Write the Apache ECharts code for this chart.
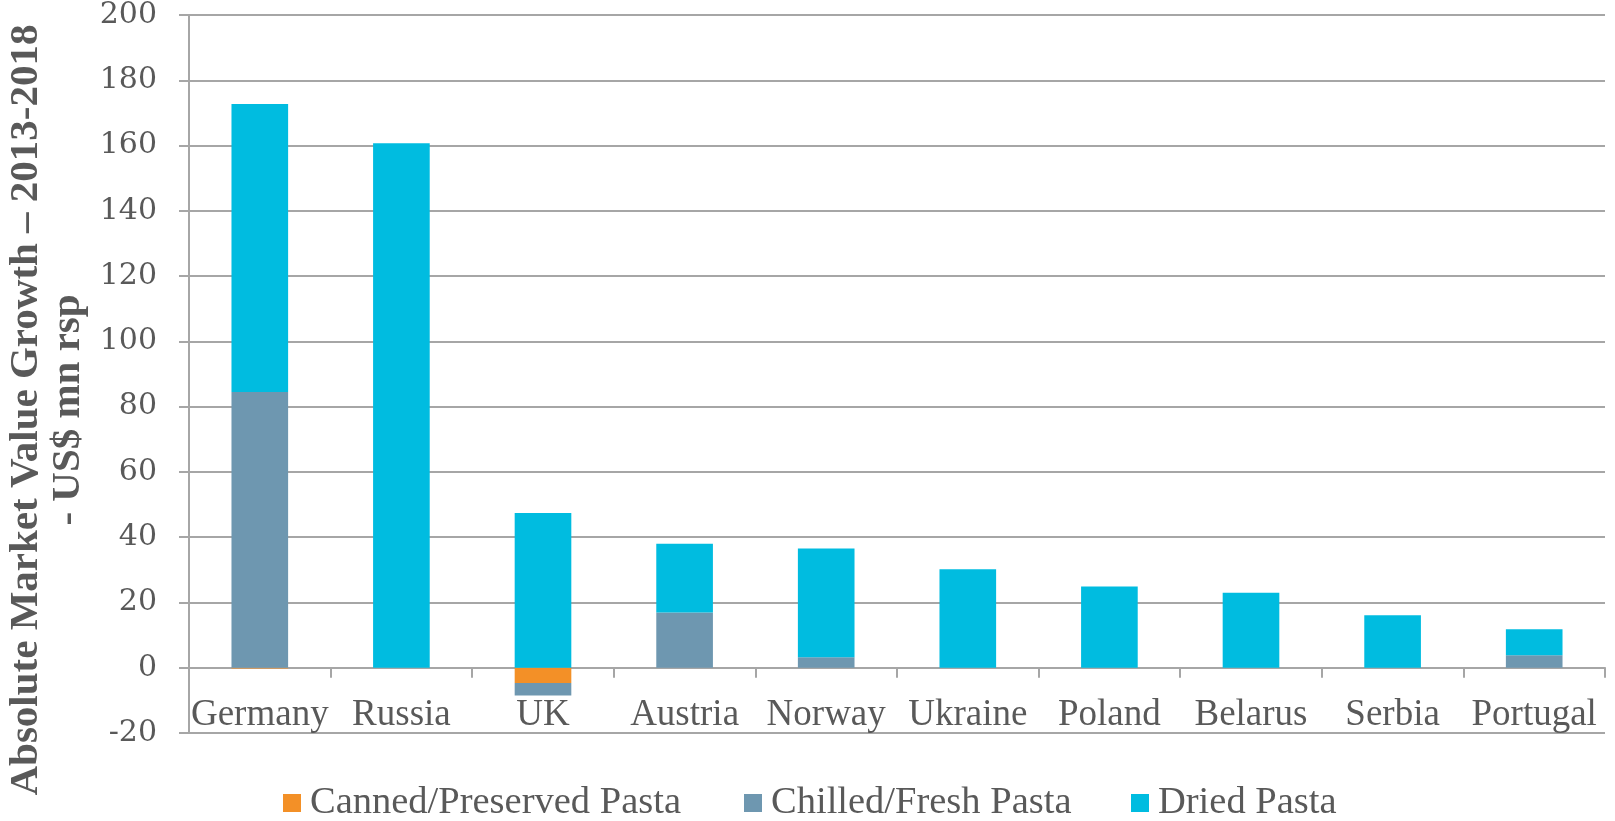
<!DOCTYPE html>
<html>
<head>
<meta charset="utf-8">
<title>Absolute Market Value Growth 2013-2018</title>
<script src="https://cdn.jsdelivr.net/npm/echarts@6/dist/echarts.min.js"></script>
<style>
  html, body { margin: 0; padding: 0; background: #ffffff; }
  #chart { width: 1615px; height: 821px; }
</style>
</head>
<body>
<div id="chart"></div>
<script>
// Countries along the category axis
const countries = ['Germany', 'Russia', 'UK', 'Austria', 'Norway', 'Ukraine', 'Poland', 'Belarus', 'Serbia', 'Portugal'];

// Absolute growth per pasta type, US$ mn rsp
const cannedPasta = [-0.2, 0, -4.7, 0, 0, 0, 0, 0, 0, 0];
const chilledPasta = [84.5, 0, -3.8, 16.9, 3.2, 0, 0, 0, 0, 3.8];
const driedPasta = [88.2, 160.7, 47.4, 21.1, 33.3, 30.2, 24.9, 23.0, 16.1, 8.0];

// Value axis range
const yMin = -20;
const yMax = 200;
const yStep = 20;

const seriesNames = ['Canned/Preserved Pasta', 'Chilled/Fresh Pasta', 'Dried Pasta'];
const seriesColors = ['#F39027', '#6E97B0', '#00BCE0'];
const seriesData = [cannedPasta, chilledPasta, driedPasta];

const TEXT = '#595959';
const RULE = '#a6a6a6';

const chart = echarts.init(document.getElementById('chart'), null, { renderer: 'canvas' });

const legendLeft = [283, 744, 1131];

const option = {
  animation: false,
  backgroundColor: '#ffffff',
  grid: { left: 189, right: 10, top: 12.5, bottom: 88, containLabel: false },
  legend: seriesNames.map((name, i) => ({
    data: [name],
    left: legendLeft[i],
    top: 783,
    padding: 0,
    itemWidth: 18,
    itemHeight: 18,
    icon: 'rect',
    selectedMode: false,
    textStyle: {
      color: TEXT,
      fontFamily: '"Liberation Serif", serif',
      fontSize: 38.5,
      lineHeight: 40,
      padding: [0, 0, 0, 4]
    }
  })),
  xAxis: {
    type: 'category',
    data: countries,
    axisLine: { show: true, onZero: true, lineStyle: { color: RULE, width: 2 } },
    axisTick: { show: true, length: 10, lineStyle: { color: RULE, width: 2 } },
    axisLabel: {
      color: TEXT,
      fontFamily: '"Liberation Serif", serif',
      fontSize: 37,
      margin: -36,
      interval: 0
    },
    splitLine: { show: false }
  },
  yAxis: {
    type: 'value',
    min: yMin,
    max: yMax,
    interval: yStep,
    axisLine: { show: true, lineStyle: { color: RULE, width: 2 } },
    axisTick: { show: true, length: 10, lineStyle: { color: RULE, width: 2 } },
    axisLabel: {
      color: TEXT,
      fontFamily: '"DejaVu Serif", serif',
      fontSize: 30,
      margin: 32,
      padding: [10, 0, 0, 0]
    },
    splitLine: { show: true, lineStyle: { color: RULE, width: 2 } }
  },
  graphic: [{
    type: 'text',
    x: 47.5,
    y: 410,
    rotation: Math.PI / 2,
    style: {
      text: 'Absolute Market Value Growth \u2013 2013-2018\n- US$ mn rsp',
      fill: TEXT,
      font: 'bold 41px "Liberation Serif", serif',
      lineHeight: 42,
      align: 'center',
      verticalAlign: 'middle'
    }
  }],
  series: seriesNames.map((name, i) => ({
    name: name,
    type: 'bar',
    stack: 'growth',
    barWidth: '40%',
    data: seriesData[i],
    itemStyle: { color: seriesColors[i] },
    emphasis: { disabled: true }
  }))
};

chart.setOption(option);
</script>
</body>
</html>
